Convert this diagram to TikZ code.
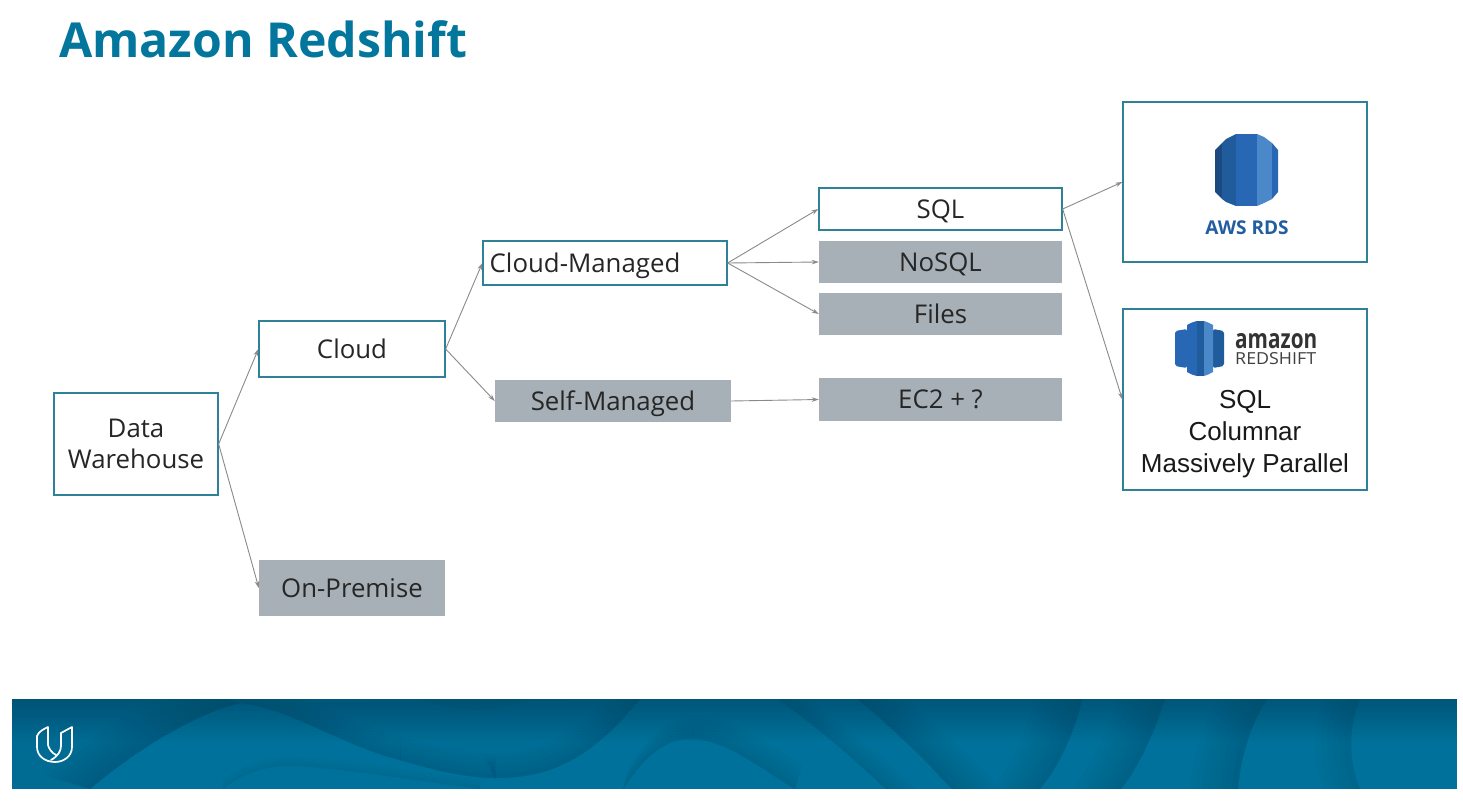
\documentclass[tikz,border=0pt]{standalone}
\usepackage{graphicx}
\usepackage{fontspec}
\setmainfont{Open Sans}
\newfontfamily\arialfont{Liberation Sans}
\usetikzlibrary{arrows.meta}
\definecolor{tealline}{HTML}{2F8197}
\definecolor{titleblue}{HTML}{02769C}
\definecolor{greybox}{HTML}{A6B0B6}
\definecolor{arrowgrey}{HTML}{8A8A8A}
\definecolor{rdsa}{HTML}{1C4A7E}
\definecolor{rdsb}{HTML}{205B9C}
\definecolor{rdsc}{HTML}{2767B3}
\definecolor{rdsd}{HTML}{4A88C9}
\definecolor{bandtop}{HTML}{03415C}
\definecolor{bandmid}{HTML}{00719B}
\tikzset{
  x=1pt,y=-1pt,
  boxtext/.style={inner sep=0pt,align=center,font=\fontsize{25.8}{31}\selectfont,text=black!85},
  oneline/.style={text height=22pt,text depth=4pt},
  outlined/.style={boxtext,draw=tealline,line width=1.3pt,fill=white},
  greyed/.style={boxtext,fill=greybox},
  conn/.style={draw=arrowgrey,line width=.9pt,-{Stealth[length=7pt,width=4.5pt]}},
  wave/.style={fill=bandtop,fill opacity=.04,draw=none}
}
% fading edge: start, two controls, end, direction x, direction y, number list
\newcommand{\fadeedge}[7]{%
  \foreach \s in {#7}{%
    \fill[wave] (#1) .. controls (#2) and (#3) .. (#4)
      -- ([shift={(#5*\s,#6*\s)}]#4) .. controls ([shift={(#5*\s,#6*\s)}]#3) and ([shift={(#5*\s,#6*\s)}]#2) .. ([shift={(#5*\s,#6*\s)}]#1) -- cycle;
  }%
}
\begin{document}
\begin{tikzpicture}
\useasboundingbox (0,0) rectangle (1463,800);
\fill[white] (0,0) rectangle (1463,800);
\node[anchor=west,font=\fontsize{48.2}{50}\bfseries\selectfont,text=titleblue,inner sep=0pt] (title) at (59,39) {Amazon Redshift};
% banner
\begin{scope}
\clip (12,699) rectangle (1457,789);
\fill[bandmid] (12,699) rectangle (1457,789);
% left region and bowl
\fill[bandtop,fill opacity=.10] (12,699) -- (12,789) -- (90,789) .. controls (130,755) and (190,715) .. (240,703) -- (240,699) -- cycle;
\fadeedge{90,789}{130,755}{190,715}{240,703}{-1}{-.3}{6,12,...,48}
\fill[bandtop,fill opacity=.07] (240,703) .. controls (290,708) and (340,745) .. (400,760) .. controls (440,772) and (470,778) .. (495,778) .. controls (550,778) and (590,760) .. (640,699) -- cycle;
\fadeedge{240,703}{290,708}{340,745}{400,760}{0}{-1}{4,8,...,24}
\fadeedge{400,760}{440,772}{470,778}{495,778}{0}{-1}{4,8,...,24}
\fadeedge{495,778}{550,778}{590,760}{640,699}{-.5}{-1}{4,8,...,24}
\fadeedge{223,789}{240,775}{265,766}{287,766}{0}{-1}{3,6,9}
\fadeedge{287,766}{320,766}{380,775}{480,789}{0}{-1}{3,6,9}
% hump and diagonal edges
\fadeedge{623,789}{645,755}{665,739}{691,739}{.3}{-1}{4,8,...,24}
\fadeedge{691,739}{725,739}{760,768}{795,789}{.3}{-1}{4,8,...,24}
\fadeedge{778,699}{815,725}{855,760}{886,789}{1}{0}{5,10,...,30}
\fadeedge{857,699}{890,725}{925,760}{952,789}{1}{0}{6,12,...,48}
% right edges
\fadeedge{1082,699}{1075,730}{1060,765}{1040,789}{-1}{0}{6,12,...,48}
\fadeedge{1165,699}{1155,730}{1140,765}{1121,789}{-1}{0}{6,12,...,48}
\fadeedge{1267,699}{1250,725}{1240,760}{1238,789}{-1}{0}{6,12,...,48}
\fadeedge{1360,699}{1348,725}{1348,763}{1360,789}{-1}{0}{6,12,...,36}
% small dark patch
\fill[bandtop,fill opacity=.14] (420,699) .. controls (450,713) and (500,713) .. (530,699) -- cycle;
% darkening towards the top edge
\foreach \h in {3,6,...,42}{\fill[bandtop,fill opacity=.04] (12,699) rectangle (1457,699+\h);}
\end{scope}
% udacity mark
\begin{scope}[white,line width=1.7pt,line join=round,line cap=round]
\draw (37,736) .. controls (39,731) and (44,729) .. (48,727) -- (48,745) .. controls (49,749) and (52,753) .. (56,755);
\draw (61,733) -- (72,727) -- (72,747) .. controls (72,756) and (64,762) .. (55,762) .. controls (45,762) and (37,756) .. (37,747) -- (37,736);
\draw (61,733) -- (61,746) .. controls (61,751) and (58,756) .. (51,760);
\end{scope}
% nodes
\node[outlined,minimum width=164pt,minimum height=102pt] (dw) at (136,444) {\rule{0pt}{3pt}Data\\Warehouse};
\node[outlined,oneline,minimum width=186pt,minimum height=56pt] (cloud) at (352,349) {Cloud};
\node[greyed,oneline,minimum width=186pt,minimum height=56pt] (onprem) at (352,588) {On-Premise};
\node[outlined,oneline,minimum width=244pt,minimum height=44pt] (cm) at (605,263) {Cloud-Managed\hspace{40pt}};
\node[greyed,oneline,minimum width=236pt,minimum height=42pt] (sm) at (613,401) {Self-Managed};
\node[outlined,oneline,minimum width=243pt,minimum height=42pt] (sql) at (940.5,209) {SQL};
\node[greyed,oneline,minimum width=243pt,minimum height=42pt] (nosql) at (940.5,262) {NoSQL};
\node[greyed,oneline,minimum width=243pt,minimum height=42pt] (files) at (940.5,314) {Files};
\node[greyed,oneline,minimum width=243pt,minimum height=43pt] (ec2) at (940.5,399.5) {EC2 + ?};
\node[outlined,minimum width=244pt,minimum height=160pt] (rds) at (1245,182) {};
\node[outlined,minimum width=244pt,minimum height=181pt] (rs) at (1245,399.5) {};
% RDS icon
\fill[rdsa] (1215,150) -- (1222,143) -- (1222,199) -- (1215,192) -- cycle;
\fill[rdsb] (1222,143) -- (1226,139) -- (1236,134) -- (1236,206) -- (1226,202) -- (1222,199) -- cycle;
\fill[rdsc] (1236,134) -- (1257,134) -- (1257,206) -- (1236,206) -- cycle;
\fill[rdsd] (1257,134) -- (1264,137) -- (1272,143) -- (1272,199) -- (1264,203) -- (1257,206) -- cycle;
\fill[rdsc] (1272,143) -- (1278,150) -- (1278,192) -- (1272,199) -- cycle;
\node[font=\fontsize{19}{22}\bfseries\selectfont,text=rdsc!90!black,inner sep=0pt] (rdslabel) at (1247,228) {AWS RDS};
% Redshift icon
\fill[rdsc,rounded corners=2pt] (1175,331) -- (1187,329) -- (1187,368) -- (1175,366) -- cycle;
\fill[rdsb,rounded corners=2pt] (1213,329) -- (1224,331) -- (1224,366) -- (1213,368) -- cycle;
\fill[rdsc] (1187,325) .. controls (1190,323) and (1193,322) .. (1197,321) -- (1197,376) .. controls (1193,375) and (1190,374) .. (1187,372) -- cycle;
\fill[rdsb] (1197,321) -- (1204,321) -- (1204,376) -- (1197,376) -- cycle;
\fill[rdsd] (1204,321) .. controls (1207,322) and (1210,323) .. (1213,325) -- (1213,372) .. controls (1210,374) and (1207,375) .. (1204,376) -- cycle;
\node[anchor=west,font=\bfseries,text=black!80,inner sep=0pt] (amz) at (1235,341) {\resizebox{82pt}{15pt}{amazon}};
\node[anchor=west,text=black!75,inner sep=0pt] (rsft) at (1235,358.5) {\resizebox{81pt}{12pt}{REDSHIFT}};
\node[font=\arialfont\fontsize{26}{32}\selectfont,text=black!90,align=center,inner sep=0pt] (rstext) at (1245,434) {SQL\\Columnar\\Massively Parallel};
% connectors
\draw[conn] (dw.east) -- (cloud.west);
\draw[conn] (dw.east) -- (onprem.west);
\draw[conn] (cloud.east) -- (cm.west);
\draw[conn] (cloud.east) -- (sm.west);
\draw[conn] (cm.east) -- (sql.west);
\draw[conn] (cm.east) -- (nosql.west);
\draw[conn] (cm.east) -- (files.west);
\draw[conn] (sm.east) -- (ec2.west);
\draw[conn] (sql.east) -- (rds.west);
\draw[conn] (sql.east) -- (rs.west);
\end{tikzpicture}
\end{document}
